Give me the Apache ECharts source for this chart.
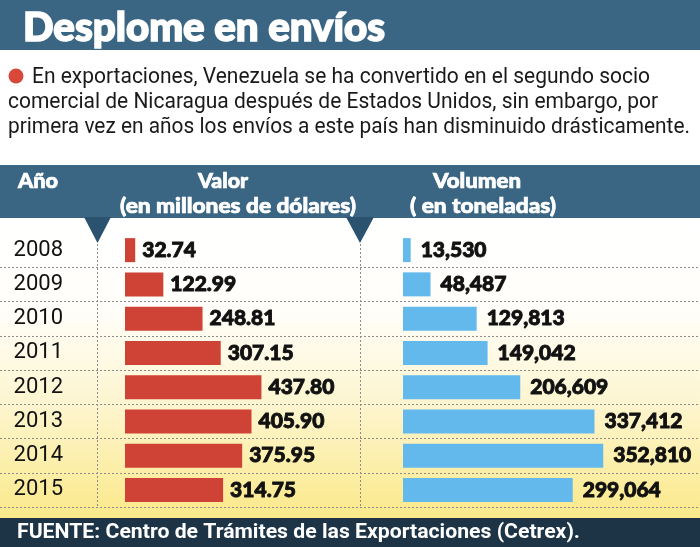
<!DOCTYPE html>
<html><head><meta charset="utf-8">
<script src="https://cdn.jsdelivr.net/npm/echarts@6/dist/echarts.min.js"></script>
<style>html,body{margin:0;padding:0;background:#fff}#c{width:700px;height:547px}</style>
</head><body><div id="c"></div>
<script>
// ---- data ----
const years = ['2008', '2009', '2010', '2011', '2012', '2013', '2014', '2015'];
const valor = [32.74, 122.99, 248.81, 307.15, 437.80, 405.90, 375.95, 314.75];
const volumen = [13530, 48487, 129813, 149042, 206609, 337412, 352810, 299064];
const titleText = 'Desplome en envíos';
const introLines = [
  'En exportaciones, Venezuela se ha convertido en el segundo socio',
  'comercial de Nicaragua después de Estados Unidos, sin embargo, por',
  'primera vez en años los envíos a este país han disminuido drásticamente.'
];
const headYear = 'Año';
const headValor = ['Valor', '(en millones de dólares)'];
const headVol = ['Volumen', '( en toneladas)'];
const sourceText = 'FUENTE: Centro de Trámites de las Exportaciones (Cetrex).';

// ---- helpers ----
const FONT = 'Roboto';
const HEAVY = 'Lato';
const mctx = document.createElement('canvas').getContext('2d');
function fit(text, left, cy, width, size, weight, color, family, strokeW) {
  family = family || FONT;
  mctx.font = weight + ' ' + size + 'px ' + family;
  const w = mctx.measureText(text).width;
  const style = { text: text, fontSize: size, fontWeight: weight, fontFamily: family,
    fill: color, align: 'left', verticalAlign: 'middle' };
  if (strokeW) { style.stroke = color; style.lineWidth = strokeW; }
  return { type: 'text', x: left, y: cy, scaleX: width / w, z: 100, style: style };
}
function fitC(text, cx, cy, width, size, weight, color, family, strokeW) {
  return fit(text, cx - width / 2, cy, width, size, weight, color, family, strokeW);
}

const BLUE = '#3a6684';
const DARK_TRI = '#2b536f';
const dotted = { stroke: '#8c8c8c', lineWidth: 1, lineDash: [2, 2] };

const chart = echarts.init(document.getElementById('c'), null, { renderer: 'canvas' });

const graphics = [
  // background gradient for rows area
  { type: 'rect', z: -10, shape: { x: 0, y: 218, width: 700, height: 300 },
    style: { fill: { type: 'linear', x: 0, y: 0, x2: 0, y2: 1, colorStops: [
      { offset: 0, color: '#ffffff' }, { offset: 0.3, color: '#fffefa' },
      { offset: 0.62, color: '#fdf5cf' }, { offset: 1, color: '#fbe98a' }] } } },
  // title bar
  { type: 'rect', z: 50, shape: { x: 0, y: 0, width: 700, height: 50 }, style: { fill: BLUE } },
  fit(titleText, 23, 28, 362, 40, 900, '#ffffff', HEAVY, 1.6),
  // intro
  { type: 'circle', z: 100, shape: { cx: 16, cy: 76, r: 7.5 }, style: { fill: '#d84839' } },
  fit(introLines[0], 32, 77, 618, 22, 'normal', '#1a1a1a'),
  fit(introLines[1], 8, 102, 650, 22, 'normal', '#1a1a1a'),
  fit(introLines[2], 8, 127, 682, 22, 'normal', '#1a1a1a'),
  // header bar
  { type: 'rect', z: 50, shape: { x: 0, y: 165, width: 700, height: 53 }, style: { fill: BLUE } },
  fitC(headYear, 38, 182, 40, 20, 900, '#ffffff', HEAVY, 0.7),
  fitC(headValor[0], 223, 182, 50, 20, 900, '#ffffff', HEAVY, 0.7),
  fitC(headValor[1], 238, 207, 236, 20, 900, '#ffffff', HEAVY, 0.7),
  fitC(headVol[0], 477, 182, 88, 20, 900, '#ffffff', HEAVY, 0.7),
  fitC(headVol[1], 483, 207, 146, 20, 900, '#ffffff', HEAVY, 0.7),
  // triangles
  { type: 'polygon', z: 60, shape: { points: [[84, 217], [111, 217], [97.5, 243]] }, style: { fill: DARK_TRI } },
  { type: 'polygon', z: 60, shape: { points: [[346, 217], [374, 217], [360, 243]] }, style: { fill: DARK_TRI } },
  // vertical dotted separators
  { type: 'line', z: 5, shape: { x1: 97.5, y1: 244, x2: 97.5, y2: 507 }, style: dotted },
  { type: 'line', z: 5, shape: { x1: 360.5, y1: 244, x2: 360.5, y2: 507 }, style: dotted },
  // footer
  { type: 'rect', z: 50, shape: { x: 0, y: 518, width: 700, height: 29 }, style: { fill: '#1d3447' } },
  fit(sourceText, 17, 533, 563, 21, 'bold', '#ffffff')
];

const labelBase = { show: true, position: 'right', color: '#111', fontFamily: HEAVY,
  fontSize: 21, fontWeight: 900, textBorderColor: '#111', textBorderWidth: 0.9 };

chart.setOption({
  animation: false,
  backgroundColor: 'transparent',
  graphic: { elements: graphics },
  grid: [
    { left: 125, top: 233, width: 187, height: 274 },
    { left: 403, top: 233, width: 227, height: 274 },
    { left: 0, top: 233, width: 700, height: 274 }
  ],
  xAxis: [
    { gridIndex: 0, type: 'value', min: 0, max: 600, show: false },
    { gridIndex: 1, type: 'value', min: 0, max: 400000, show: false },
    { gridIndex: 2, type: 'value', min: 0, max: 1, show: false }
  ],
  yAxis: [
    { gridIndex: 0, type: 'category', data: years, inverse: true,
      axisLine: { show: false }, axisTick: { show: false }, splitLine: { show: false },
      axisLabel: { margin: 62, color: '#111', fontFamily: FONT, fontSize: 22 } },
    { gridIndex: 1, type: 'category', data: years, inverse: true, show: false },
    { gridIndex: 2, type: 'category', data: years, inverse: true,
      axisLine: { show: false }, axisTick: { show: false }, axisLabel: { show: false },
      splitLine: { show: true, showMinLine: false, showMaxLine: true,
        lineStyle: { color: '#8c8c8c', type: [2, 2], width: 1 } } }
  ],
  series: [
    { type: 'bar', xAxisIndex: 0, yAxisIndex: 0, data: valor, barWidth: 24,
      itemStyle: { color: '#cf4336' },
      label: Object.assign({}, labelBase, { distance: 7,
        formatter: p => p.value.toFixed(2) }) },
    { type: 'bar', xAxisIndex: 1, yAxisIndex: 1, data: volumen, barWidth: 24,
      itemStyle: { color: '#63b9ec' },
      label: Object.assign({}, labelBase, { distance: 10,
        formatter: p => p.value.toLocaleString('en-US') }) },
    { type: 'bar', xAxisIndex: 2, yAxisIndex: 2, data: [], silent: true }
  ]
});
</script>
</body></html>
